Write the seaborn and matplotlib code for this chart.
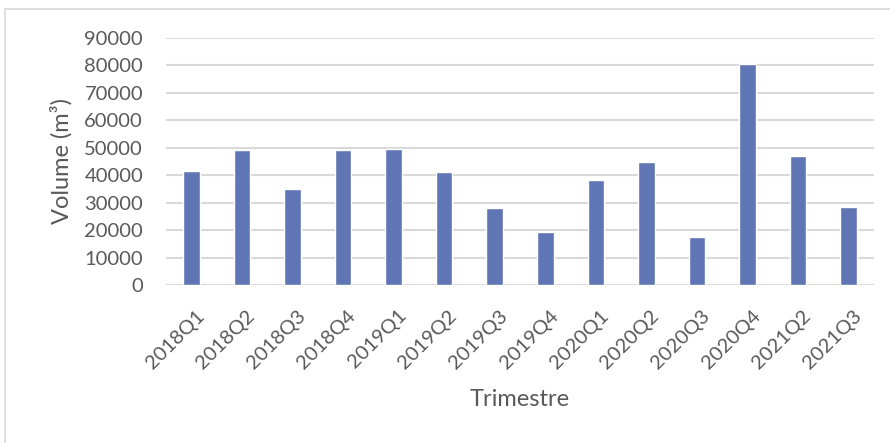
import matplotlib
matplotlib.use("Agg")
import matplotlib.pyplot as plt
import matplotlib.transforms as mtransforms
import seaborn as sns
import pandas as pd
from matplotlib.patches import Rectangle

quarters = ["2018Q1", "2018Q2", "2018Q3", "2018Q4", "2019Q1", "2019Q2", "2019Q3",
            "2019Q4", "2020Q1", "2020Q2", "2020Q3", "2020Q4", "2021Q2", "2021Q3"]
volumes = [41400, 49300, 34900, 49200, 49500, 41100, 28000,
           19300, 38100, 44800, 17500, 80700, 47100, 28500]
yticks = [0, 10000, 20000, 30000, 40000, 50000, 60000, 70000, 80000, 90000]

sns.set_style("white")
plt.rcParams['font.family'] = ['Lato', 'DejaVu Sans']

df = pd.DataFrame({"Trimestre": quarters, "Volume": volumes})

fig = plt.figure(figsize=(8.9, 4.43), dpi=100)
ax = fig.add_axes([166/890, 1-285/443, (874-166)/890, (285-38)/443])

sns.barplot(data=df, x="Trimestre", y="Volume", color="#6076B4", width=0.33,
            saturation=1, ax=ax, zorder=3)

ax.set_ylim(0, 90000)
ax.set_xlim(-0.5, len(quarters) - 0.5)
ax.set_yticks(yticks)
ax.set_yticklabels([str(v) for v in yticks])
ax.yaxis.grid(True, color="#D9D9D9", linewidth=1.5, zorder=0)
ax.xaxis.grid(False)
for s in ax.spines.values():
    s.set_visible(False)
ax.tick_params(axis="both", length=0, colors="#595959", labelsize=14.5)
ax.tick_params(axis="y", pad=16.5)
ax.tick_params(axis="x", pad=20)
offset = mtransforms.ScaledTranslation(10/100, 0, fig.dpi_scale_trans)
for lbl in ax.get_xticklabels():
    lbl.set_rotation(45)
    lbl.set_ha("right")
    lbl.set_va("center")
    lbl.set_rotation_mode("anchor")
    lbl.set_transform(lbl.get_transform() + offset)

ax.set_ylabel("Volume (m³)", fontsize=17, color="#595959", va="center")
ax.set_xlabel("Trimestre", fontsize=17, color="#595959", va="center")
ax.yaxis.set_label_coords((61-166)/708, 0.5)
ax.xaxis.set_label_coords(0.5, (285-400)/247)

fig.patches.append(Rectangle((5/890, -0.1), 1.2, 1 - 9/443 + 0.1, transform=fig.transFigure,
                             fill=False, edgecolor="#D9D9D9", linewidth=1.2))

fig.savefig("out.png", dpi=100)
